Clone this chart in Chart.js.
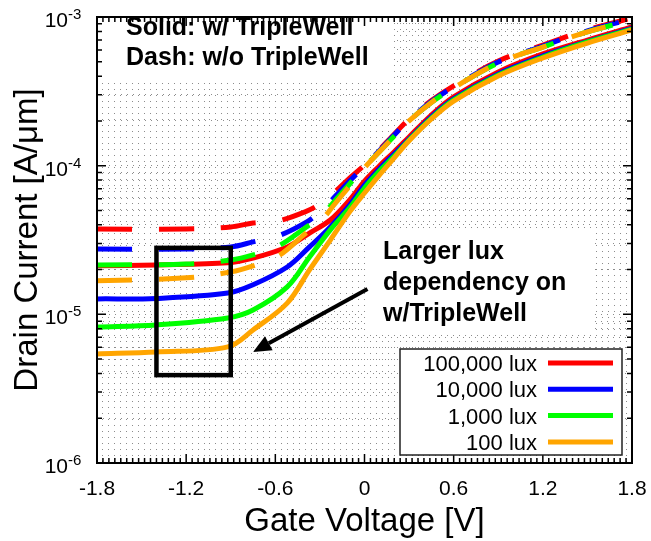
<!DOCTYPE html>
<html>
<head>
<meta charset="utf-8">
<script src="https://cdn.jsdelivr.net/npm/chart.js@4.4.0/dist/chart.umd.min.js"></script>
<style>
  html, body { margin: 0; padding: 0; background: #fff; }
</style>
</head>
<body>
<canvas id="chart" width="651" height="541"></canvas>
<script>
// Gate voltage sample points [V]
const vSolid = [-1.8, -1.4, -0.92, -0.75, -0.52, -0.37, -0.23, -0.1, 0, 0.1, 0.2, 0.3, 0.45, 0.6, 0.9, 1.2, 1.5, 1.8];
const vDash = [-1.8, -1.2, -0.9, -0.75, -0.58, -0.4, -0.3, -0.2, -0.1, 0, 0.1, 0.2, 0.3, 0.45, 0.6, 0.9, 1.2, 1.5, 1.8];

// Drain current [A/um], solid = w/ TripleWell
const solid100k = [2.12e-5, 2.15e-5, 2.22e-5, 2.39e-5, 2.84e-5, 3.52e-5, 4.31e-5, 5.88e-5, 7.88e-5, 9.96e-5, 1.24e-4, 1.56e-4, 2.19e-4, 2.90e-4, 4.27e-4, 5.64e-4, 7.00e-4, 8.57e-4];
const solid10k = [1.27e-5, 1.28e-5, 1.39e-5, 1.58e-5, 2.08e-5, 2.84e-5, 3.87e-5, 5.44e-5, 7.41e-5, 9.51e-5, 1.20e-4, 1.51e-4, 2.13e-4, 2.81e-4, 4.14e-4, 5.47e-4, 6.84e-4, 8.37e-4];
const solid1k = [8.23e-6, 8.49e-6, 9.46e-6, 1.07e-5, 1.53e-5, 2.43e-5, 3.70e-5, 5.20e-5, 7.08e-5, 9.20e-5, 1.16e-4, 1.49e-4, 2.09e-4, 2.77e-4, 4.07e-4, 5.38e-4, 6.79e-4, 8.30e-4];
const solid100 = [5.42e-6, 5.58e-6, 6.04e-6, 7.85e-6, 1.19e-5, 1.99e-5, 3.16e-5, 4.89e-5, 6.55e-5, 8.65e-5, 1.13e-4, 1.47e-4, 2.06e-4, 2.72e-4, 4.01e-4, 5.30e-4, 6.68e-4, 8.18e-4];

// dashed = w/o TripleWell
const dash100k = [3.75e-5, 3.75e-5, 3.87e-5, 4.12e-5, 4.25e-5, 4.89e-5, 5.52e-5, 6.65e-5, 8.26e-5, 1.01e-4, 1.28e-4, 1.63e-4, 2.06e-4, 2.74e-4, 3.44e-4, 5.06e-4, 6.48e-4, 8.19e-4, 9.85e-4];
const dash10k = [2.75e-5, 2.75e-5, 2.84e-5, 3.07e-5, 3.37e-5, 4.12e-5, 4.89e-5, 6.17e-5, 7.88e-5, 9.96e-5, 1.26e-4, 1.61e-4, 2.03e-4, 2.70e-4, 3.39e-4, 4.98e-4, 6.38e-4, 8.07e-4, 9.70e-4];
const dash1k = [2.15e-5, 2.18e-5, 2.32e-5, 2.51e-5, 2.88e-5, 3.81e-5, 4.45e-5, 5.79e-5, 7.53e-5, 9.80e-5, 1.24e-4, 1.58e-4, 2.00e-4, 2.66e-4, 3.34e-4, 4.91e-4, 6.28e-4, 7.94e-4, 9.55e-4];
const dash100 = [1.68e-5, 1.76e-5, 1.93e-5, 2.12e-5, 2.47e-5, 3.48e-5, 4.18e-5, 5.52e-5, 7.30e-5, 9.66e-5, 1.24e-4, 1.58e-4, 2.00e-4, 2.66e-4, 3.34e-4, 4.91e-4, 6.28e-4, 7.94e-4, 9.55e-4];

const luxLabels = ['100,000 lux', '10,000 lux', '1,000 lux', '100 lux'];
const luxColors = ['#ff0000', '#0000ff', '#00ff00', '#ffa500'];

const xTickLabels = [-1.8, -1.2, -0.6, 0, 0.6, 1.2, 1.8];
const yDecades = [-6, -5, -4, -3];

// annotation shapes in data units
const markBox = { x0: -1.4, x1: -0.9, yHi: 2.8e-5, yLo: 3.9e-6 };
const arrowNote = { from: [0.02, 1.48e-5], to: [-0.75, 5.58e-6] };

const toPts = (xs, ys) => xs.map((x, i) => ({ x: x, y: ys[i] }));

const solidSets = [solid100k, solid10k, solid1k, solid100];
const dashSets = [dash100k, dash10k, dash1k, dash100];

const datasets = [];
// first dataset is painted on top, so orange dashed goes first
[3, 2, 1, 0].forEach(i => datasets.push({
  label: luxLabels[i] + ' (w/o)',
  data: toPts(vDash, dashSets[i]),
  borderColor: luxColors[i],
  borderWidth: 5,
  borderDash: [35, 27],
  borderCapStyle: 'butt'
}));
[3, 2, 1, 0].forEach(i => datasets.push({
  label: luxLabels[i],
  data: toPts(vSolid, solidSets[i]),
  borderColor: luxColors[i],
  borderWidth: 5
}));

const FONT = '"Liberation Sans", Arial, sans-serif';

const decor = {
  id: 'decor',
  beforeDatasetsDraw(chart) {
    const ctx = chart.ctx;
    ctx.save();
    ctx.fillStyle = '#fff';
    ctx.fillRect(98, 18, 295, 62);
    ctx.fillRect(367, 233, 226, 100);
    ctx.restore();
  },
  afterDatasetsDraw(chart) {
    const ctx = chart.ctx;
    const a = chart.chartArea;
    const xs = chart.scales.x, ys = chart.scales.y;
    ctx.save();

    // ticks on all four sides
    ctx.strokeStyle = '#000';
    ctx.lineWidth = 1.5;
    ctx.beginPath();
    xs.ticks.forEach(t => {
      const px = xs.getPixelForValue(t.value);
      const major = xTickLabels.some(v => Math.abs(v - t.value) < 1e-6);
      const len = major ? 9 : 5;
      ctx.moveTo(px, a.bottom); ctx.lineTo(px, a.bottom - len);
      ctx.moveTo(px, a.top); ctx.lineTo(px, a.top + len);
    });
    ys.ticks.forEach(t => {
      const py = ys.getPixelForValue(t.value);
      const major = Math.abs(Math.log10(t.value) - Math.round(Math.log10(t.value))) < 1e-6;
      const len = major ? 9 : 5;
      ctx.moveTo(a.left, py); ctx.lineTo(a.left + len, py);
      ctx.moveTo(a.right, py); ctx.lineTo(a.right - len, py);
    });
    ctx.stroke();

    // frame
    ctx.lineWidth = 2;
    ctx.strokeRect(a.left, a.top, a.right - a.left, a.bottom - a.top);

    // y tick labels 10^n
    ctx.fillStyle = '#000';
    yDecades.forEach(e => {
      const py = ys.getPixelForValue(Math.pow(10, e));
      ctx.font = '21px ' + FONT;
      ctx.textAlign = 'right';
      ctx.textBaseline = 'alphabetic';
      ctx.fillText('10', 68, py + 10);
      ctx.font = '15px ' + FONT;
      ctx.textAlign = 'left';
      ctx.fillText(String(e), 68, py + 2);
    });

    // notes
    ctx.font = 'bold 25px ' + FONT;
    ctx.textAlign = 'left';
    ctx.fillText('Solid: w/ TripleWell', 126, 35);
    ctx.fillText('Dash: w/o TripleWell', 126, 65);
    ctx.fillText('Larger lux', 383, 259);
    ctx.fillText('dependency on', 383, 290);
    ctx.fillText('w/TripleWell', 383, 321);

    // highlight box
    const bx0 = xs.getPixelForValue(markBox.x0), bx1 = xs.getPixelForValue(markBox.x1);
    const by0 = ys.getPixelForValue(markBox.yHi), by1 = ys.getPixelForValue(markBox.yLo);
    ctx.lineWidth = 4.5;
    ctx.strokeRect(bx0, by0, bx1 - bx0, by1 - by0);

    // arrow
    const sx = xs.getPixelForValue(arrowNote.from[0]), sy = ys.getPixelForValue(arrowNote.from[1]);
    const tx = xs.getPixelForValue(arrowNote.to[0]), ty = ys.getPixelForValue(arrowNote.to[1]);
    const ang = Math.atan2(ty - sy, tx - sx);
    const head = 18, half = 8;
    const hx = tx - head * Math.cos(ang), hy = ty - head * Math.sin(ang);
    ctx.lineWidth = 4;
    ctx.beginPath();
    ctx.moveTo(sx, sy); ctx.lineTo(hx, hy);
    ctx.stroke();
    ctx.beginPath();
    ctx.moveTo(tx, ty);
    ctx.lineTo(hx + half * Math.sin(ang), hy - half * Math.cos(ang));
    ctx.lineTo(hx - half * Math.sin(ang), hy + half * Math.cos(ang));
    ctx.closePath();
    ctx.fill();

    // legend
    ctx.fillStyle = '#fff';
    ctx.fillRect(400, 349, 222, 106);
    ctx.strokeStyle = '#222';
    ctx.lineWidth = 1.5;
    ctx.strokeRect(400, 349, 222, 106);
    ctx.font = '22px ' + FONT;
    ctx.textAlign = 'right';
    luxLabels.forEach((lab, i) => {
      const cy = 363 + i * 26.3;
      ctx.fillStyle = '#000';
      ctx.fillText(lab, 537, cy + 8);
      ctx.strokeStyle = luxColors[i];
      ctx.lineWidth = 5;
      ctx.beginPath();
      ctx.moveTo(548, cy); ctx.lineTo(613, cy);
      ctx.stroke();
    });
    ctx.restore();
  }
};

new Chart(document.getElementById('chart'), {
  type: 'line',
  data: { datasets: datasets },
  options: {
    responsive: false,
    animation: false,
    layout: { padding: { top: 17, right: 19, left: 0, bottom: 0 } },
    elements: {
      point: { radius: 0 },
      line: { tension: 0.35, fill: false }
    },
    plugins: { legend: { display: false }, tooltip: { enabled: false } },
    scales: {
      x: {
        type: 'linear',
        min: -1.8,
        max: 1.8,
        afterBuildTicks(scale) {
          const t = [];
          for (let i = 0; i <= 90; i++) t.push({ value: Math.round((-1.8 + i * 0.04) * 100) / 100 });
          scale.ticks = t;
        },
        afterFit(scale) {
          scale.height = 78;
          scale.paddingLeft = 0;
          scale.paddingRight = 0;
        },
        grid: { color: 'rgba(0,0,0,0.45)', lineWidth: 1, drawTicks: false },
        border: { display: false, dash: [1, 5] },
        ticks: {
          autoSkip: false,
          maxRotation: 0,
          minRotation: 0,
          padding: 14,
          color: '#000',
          font: { family: FONT, size: 21 },
          callback(value) {
            const hit = xTickLabels.find(v => Math.abs(v - value) < 1e-6);
            return hit === undefined ? '' : String(hit);
          }
        },
        title: {
          display: true,
          text: 'Gate Voltage [V]',
          color: '#000',
          font: { family: FONT, size: 33, lineHeight: 1 },
          padding: { top: 0, bottom: 3 }
        }
      },
      y: {
        type: 'logarithmic',
        min: 1e-6,
        max: 1e-3,
        afterBuildTicks(scale) {
          const t = [];
          yDecades.forEach(e => {
            for (let m = 1; m <= 9; m++) {
              if (e === -3 && m > 1) break;
              t.push({ value: m * Math.pow(10, e) });
            }
          });
          scale.ticks = t;
        },
        afterFit(scale) { scale.width = 97; },
        grid: { color: 'rgba(0,0,0,0.45)', lineWidth: 1, drawTicks: false },
        border: { display: false, dash: [1, 5] },
        ticks: { display: false },
        title: {
          display: true,
          text: 'Drain Current [A/μm]',
          color: '#000',
          font: { family: FONT, size: 33, lineHeight: 1 },
          padding: { top: 11, bottom: 0 }
        }
      }
    }
  },
  plugins: [decor]
});
</script>
</body>
</html>
